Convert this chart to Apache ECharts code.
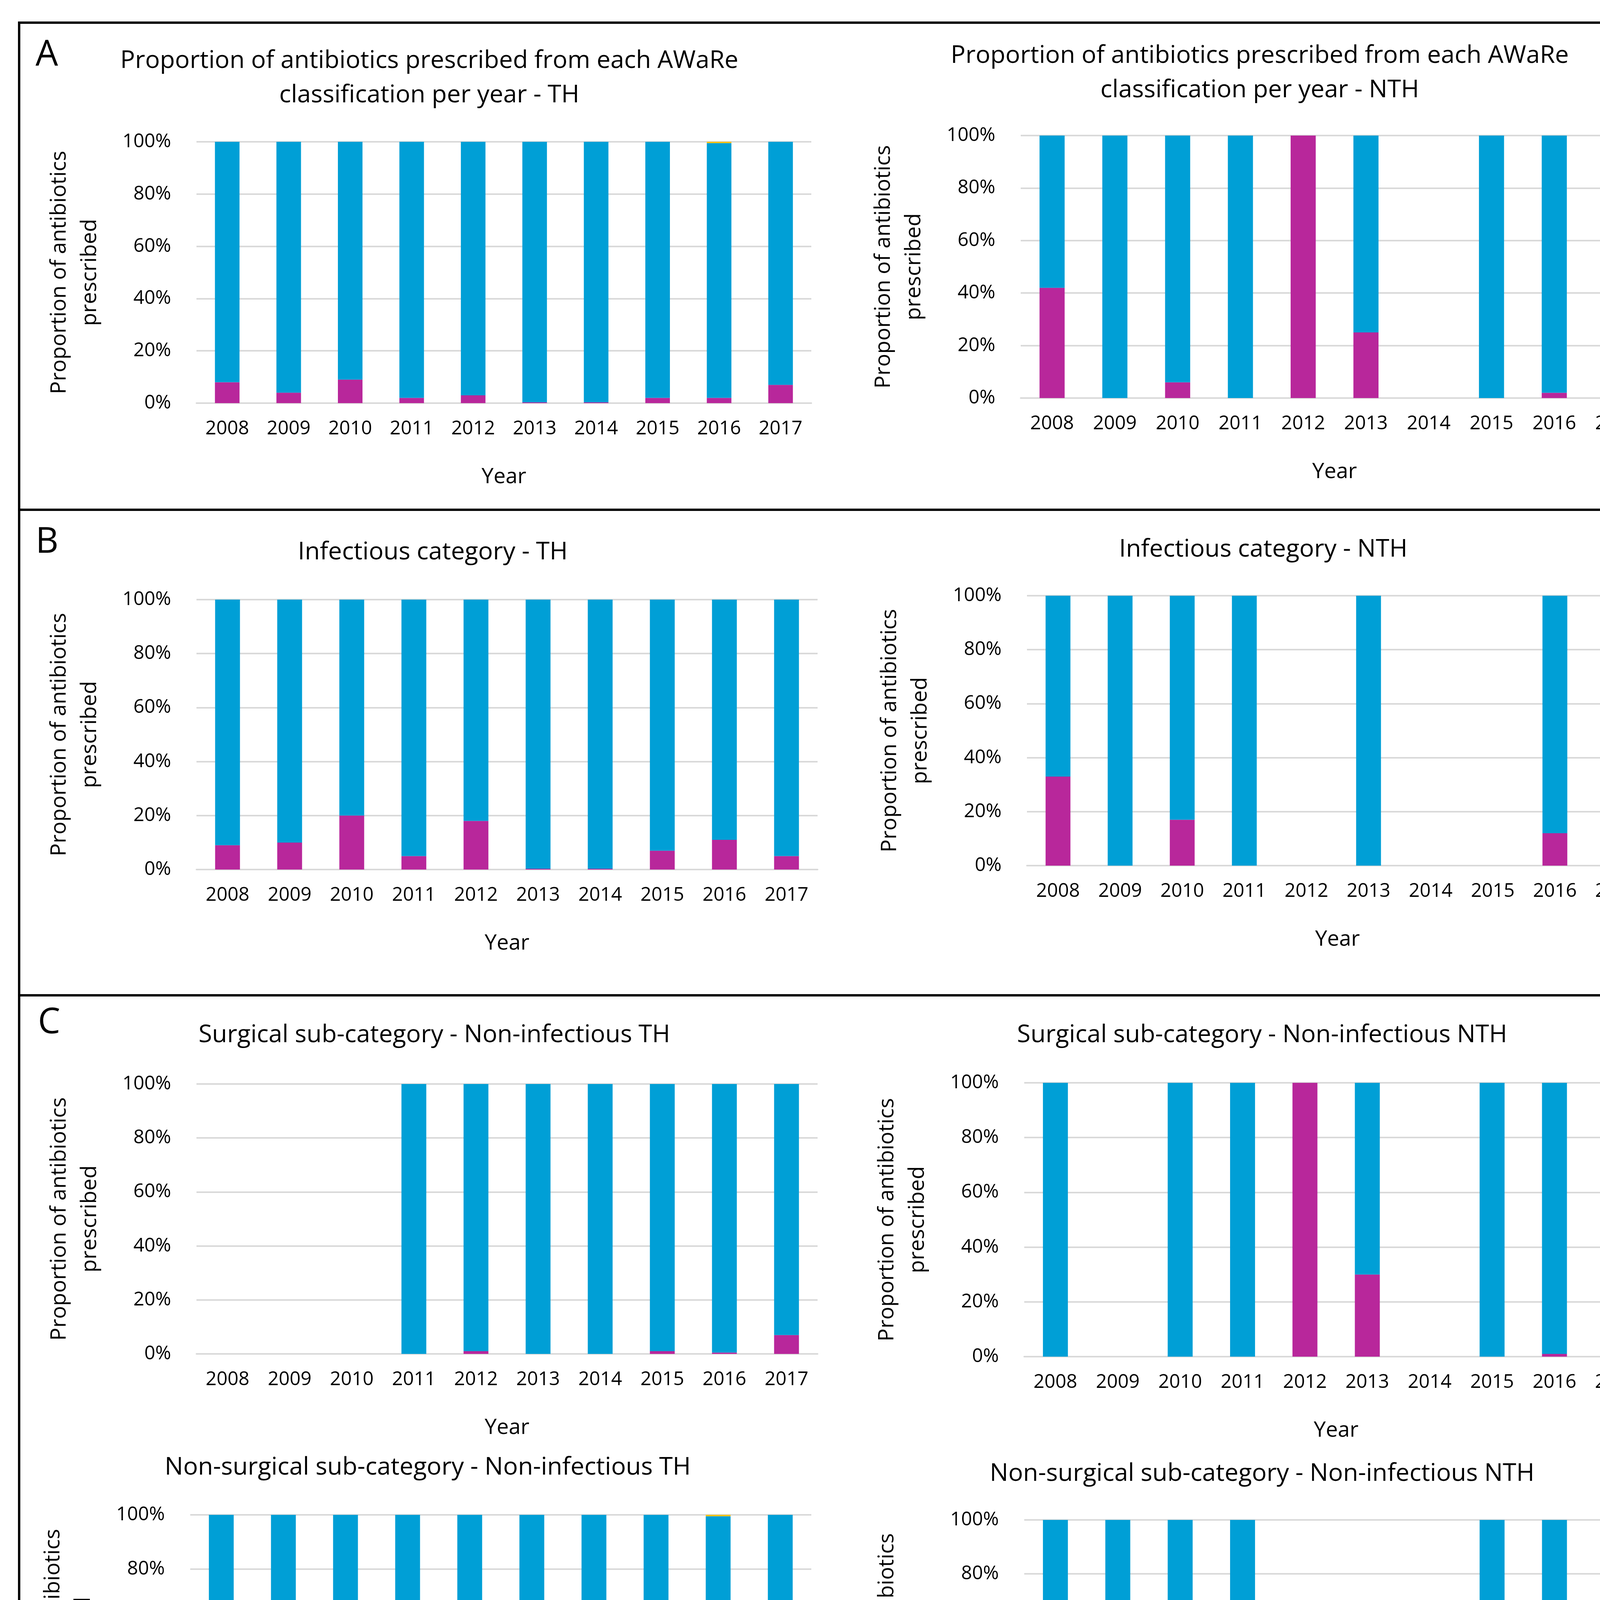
<!DOCTYPE html>
<html>
<head>
<meta charset="utf-8">
<script src="https://cdn.jsdelivr.net/npm/echarts@6/dist/echarts.min.js"></script>
<style>html,body{margin:0;padding:0;background:#fff}#main{width:4349px;height:5094px}</style>
</head>
<body>
<div id="main"></div>
<script>
// data (percent), null = no bar
const years = ['2008','2009','2010','2011','2012','2013','2014','2015','2016','2017'];
const yTicks = ['0%','20%','40%','60%','80%','100%'];

const aThAccess  = [8, 4, 9, 2, 3, 0.3, 0.3, 2, 2, 7];
const aThWatch   = [92, 96, 91, 98, 97, 99.7, 99.7, 98, 97.5, 93];
const aThReserve = [0, 0, 0, 0, 0, 0, 0, 0, 0.5, 0];

const aNthAccess  = [42, 0, 6, 0, 100, 25, null, 0, 2, 2];
const aNthWatch   = [58, 100, 94, 100, 0, 75, null, 100, 98, 98];
const aNthReserve = [0, 0, 0, 0, 0, 0, null, 0, 0, 0];

const bThAccess  = [9, 10, 20, 5, 18, 0.3, 0.3, 7, 11, 5];
const bThWatch   = [91, 90, 80, 95, 82, 99.7, 99.7, 93, 89, 95];
const bThReserve = [0, 0, 0, 0, 0, 0, 0, 0, 0, 0];

const bNthAccess  = [33, 0, 17, 0, null, 0, null, null, 12, 33];
const bNthWatch   = [67, 100, 83, 100, null, 100, null, null, 88, 67];
const bNthReserve = [0, 0, 0, 0, null, 0, null, null, 0, 0];

const cSurgThAccess  = [null, null, null, 0, 1, 0, 0, 1, 0.5, 7];
const cSurgThWatch   = [null, null, null, 100, 99, 100, 100, 99, 99.5, 93];
const cSurgThReserve = [null, null, null, 0, 0, 0, 0, 0, 0, 0];

const cSurgNthAccess  = [0, null, 0, 0, 100, 30, null, 0, 1, 0];
const cSurgNthWatch   = [100, null, 100, 100, 0, 70, null, 100, 99, 100];
const cSurgNthReserve = [0, null, 0, 0, 0, 0, null, 0, 0, 0];

const cNonThAccess  = [7, 1, 5, 1, 1, 0, 2, 0, 2, 1];
const cNonThWatch   = [93, 99, 95, 99, 99, 100, 98, 100, 97.5, 99];
const cNonThReserve = [0, 0, 0, 0, 0, 0, 0, 0, 0.5, 0];

const cNonNthAccess  = [31, 0, 0, 0, null, null, null, 0, 0, null];
const cNonNthWatch   = [69, 100, 100, 100, null, null, null, 100, 100, null];
const cNonNthReserve = [0, 0, 0, 0, null, null, null, 0, 0, null];

const K = 4349 / 1340;
const s = v => Math.round(v * K);
const FONT = 'Open Sans';
const cAccess = '#B8279B', cWatch = '#009FD6', cReserve = '#FFC000';

// panels in reference display coords: plot box + title
const panels = [
  {x0:155, x1:640, y0:112, y1:318, title:'Proportion of antibiotics prescribed from each AWaRe\nclassification per year - TH', tx:337, ty:60, d:[aThAccess,aThWatch,aThReserve]},
  {x0:805, x1:1300, y0:107, y1:314, title:'Proportion of antibiotics prescribed from each AWaRe\nclassification per year - NTH', tx:992, ty:56, d:[aNthAccess,aNthWatch,aNthReserve]},
  {x0:155, x1:645, y0:473, y1:686, title:'Infectious category - TH', tx:340, ty:434, d:[bThAccess,bThWatch,bThReserve]},
  {x0:810, x1:1300, y0:470, y1:683, title:'Infectious category - NTH', tx:995, ty:432, d:[bNthAccess,bNthWatch,bNthReserve]},
  {x0:155, x1:645, y0:855, y1:1068, title:'Surgical sub-category - Non-infectious TH', tx:341, ty:815, d:[cSurgThAccess,cSurgThWatch,cSurgThReserve]},
  {x0:808, x1:1300, y0:854, y1:1070, title:'Surgical sub-category - Non-infectious NTH', tx:994, ty:815, d:[cSurgNthAccess,cSurgNthWatch,cSurgNthReserve]},
  {x0:150, x1:640, y0:1195, y1:1409, title:'Non-surgical sub-category - Non-infectious TH', tx:336, ty:1156, d:[cNonThAccess,cNonThWatch,cNonThReserve]},
  {x0:808, x1:1300, y0:1199, y1:1412, title:'Non-surgical sub-category - Non-infectious NTH', tx:994, ty:1161, d:[cNonNthAccess,cNonNthWatch,cNonNthReserve]}
];

const grid = [], xAxis = [], yAxis = [], series = [], title = [];
panels.forEach((p, i) => {
  grid.push({left:s(p.x0), top:s(p.y0), width:s(p.x1-p.x0), height:s(p.y1-p.y0), containLabel:false});
  xAxis.push({
    type:'category', gridIndex:i, data:years,
    name:'Year', nameLocation:'middle', nameGap:s(50),
    nameTextStyle:{fontFamily:FONT, fontSize:s(17), color:'#000'},
    axisTick:{show:false},
    axisLine:{lineStyle:{color:'#d9d9d9', width:s(1.3)}},
    axisLabel:{fontFamily:FONT, fontSize:s(15), color:'#000', margin:s(13), interval:0}
  });
  yAxis.push({
    type:'value', gridIndex:i, min:0, max:100, interval:20,
    name:'Proportion of antibiotics\nprescribed', nameLocation:'middle', nameGap:s(72), nameRotate:90,
    nameTextStyle:{fontFamily:FONT, fontSize:s(17), color:'#000', lineHeight:s(24)},
    axisLine:{show:false}, axisTick:{show:false},
    axisLabel:{fontFamily:FONT, fontSize:s(15), color:'#000', margin:s(20), formatter:v => yTicks[v/20]},
    splitLine:{lineStyle:{color:'#d9d9d9', width:s(1.3)}}
  });
  const names = ['Access','Watch','Reserve'], cols = [cAccess,cWatch,cReserve];
  names.forEach((n, k) => {
    series.push({
      name:n, type:'bar', stack:'s'+i, xAxisIndex:i, yAxisIndex:i,
      barWidth:'40%', data:p.d[k], itemStyle:{color:cols[k]}, silent:true
    });
  });
  title.push({
    text:p.title, left:s(p.tx), top:s(p.ty), textAlign:'center', textVerticalAlign:'middle',
    textStyle:{fontFamily:FONT, fontSize:s(19.5), fontWeight:'normal', color:'#000', lineHeight:s(27)}
  });
});

const line = (x1,y1,x2,y2) => ({type:'line', shape:{x1:s(x1),y1:s(y1),x2:s(x2),y2:s(y2)}, style:{stroke:'#000', lineWidth:s(2)}});
const letter = (t,x,y) => ({type:'text', left:s(x), top:s(y), style:{text:t, fontFamily:FONT, fontSize:s(28), fill:'#000'}});

const chart = echarts.init(document.getElementById('main'));
chart.setOption({
  animation:false,
  title,
  grid, xAxis, yAxis, series,
  legend:{
    data:['Access','Watch','Reserve'], left:'center', top:s(1492),
    itemWidth:s(14), itemHeight:s(14), itemGap:s(26), icon:'rect',
    textStyle:{fontFamily:FONT, fontSize:s(23), color:'#000'}
  },
  graphic:[
    {type:'rect', shape:{x:s(15), y:s(18), width:s(1307), height:s(1534)}, style:{fill:'none', stroke:'#000', lineWidth:s(2)}},
    line(15,402,1322,402), line(15,785,1322,785),
    letter('A',28,30), letter('B',28,414), letter('C',30,793)
  ]
});
</script>
</body>
</html>
